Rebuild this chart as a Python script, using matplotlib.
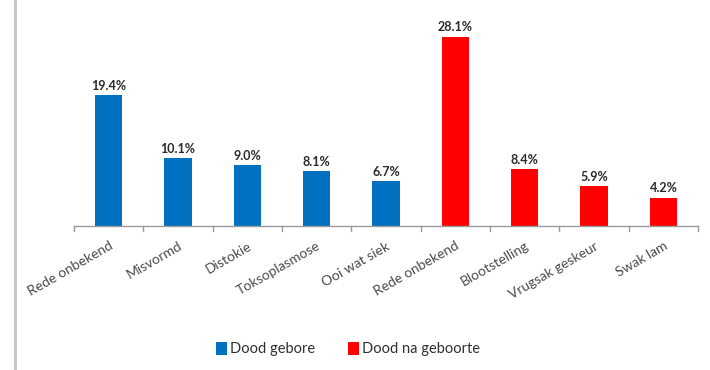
import matplotlib
matplotlib.use("Agg")
import matplotlib.pyplot as plt
from matplotlib.patches import Patch
from matplotlib.lines import Line2D

categories = ["Rede onbekend", "Misvormd", "Distokie", "Toksoplasmose", "Ooi wat siek",
              "Rede onbekend", "Blootstelling", "Vrugsak geskeur", "Swak lam"]
values = [19.4, 10.1, 9.0, 8.1, 6.7, 28.1, 8.4, 5.9, 4.2]
groups = ["Dood gebore"] * 5 + ["Dood na geboorte"] * 4
group_names = ["Dood gebore", "Dood na geboorte"]
group_colors = {"Dood gebore": "#0070C0", "Dood na geboorte": "#FF0000"}

plt.rcParams['font.family'] = ['Lato', 'DejaVu Sans']

W, H = 710, 370
fig = plt.figure(figsize=(W / 100, H / 100), dpi=100)
ax = fig.add_axes([74 / W, (H - 226) / H, (698 - 74) / W, (226 - 20) / H])

x = list(range(len(categories)))
colors = [group_colors[g] for g in groups]
ax.bar(x, values, width=0.39, color=colors, zorder=2)
ax.set_xlim(-0.5, len(categories) - 0.5)
ax.set_ylim(0, 30.6)

for xi, v in zip(x, values):
    ax.text(xi, v + 0.5, f"{v:.1f}%", ha='center', va='bottom', fontsize=9,
            fontweight='bold', color='#2a2a2a')

for s in ['top', 'right', 'left']:
    ax.spines[s].set_visible(False)
ax.spines['bottom'].set_color('#9a9a9a')
ax.spines['bottom'].set_linewidth(1.0)
ax.set_yticks([])

ax.set_xticks(x)
ax.set_xticklabels(categories, rotation=30, ha='right', rotation_mode='anchor',
                   fontsize=10, color='#4a4a4a')
ax.tick_params(axis='x', length=0, pad=10)
# boundary tick marks
for b in [i - 0.5 for i in range(len(categories) + 1)]:
    ax.plot([b, b], [0, -0.7], color='#9a9a9a', lw=1.0, clip_on=False)

# left frame line
fig.add_artist(Line2D([15 / W, 15 / W], [0, 1], color='#c8c8c8', lw=2.2,
                      transform=fig.transFigure))

handles = [Patch(facecolor=group_colors[g], edgecolor='none') for g in group_names]
fig.legend(handles, group_names, loc='center', bbox_to_anchor=(348 / W, 21 / H),
           ncol=2, frameon=False, fontsize=10.5, handlelength=0.75, handleheight=1.0,
           handletextpad=0.25, columnspacing=2.2, labelcolor='#303030')

fig.savefig("out.png", dpi=100, facecolor='white')
